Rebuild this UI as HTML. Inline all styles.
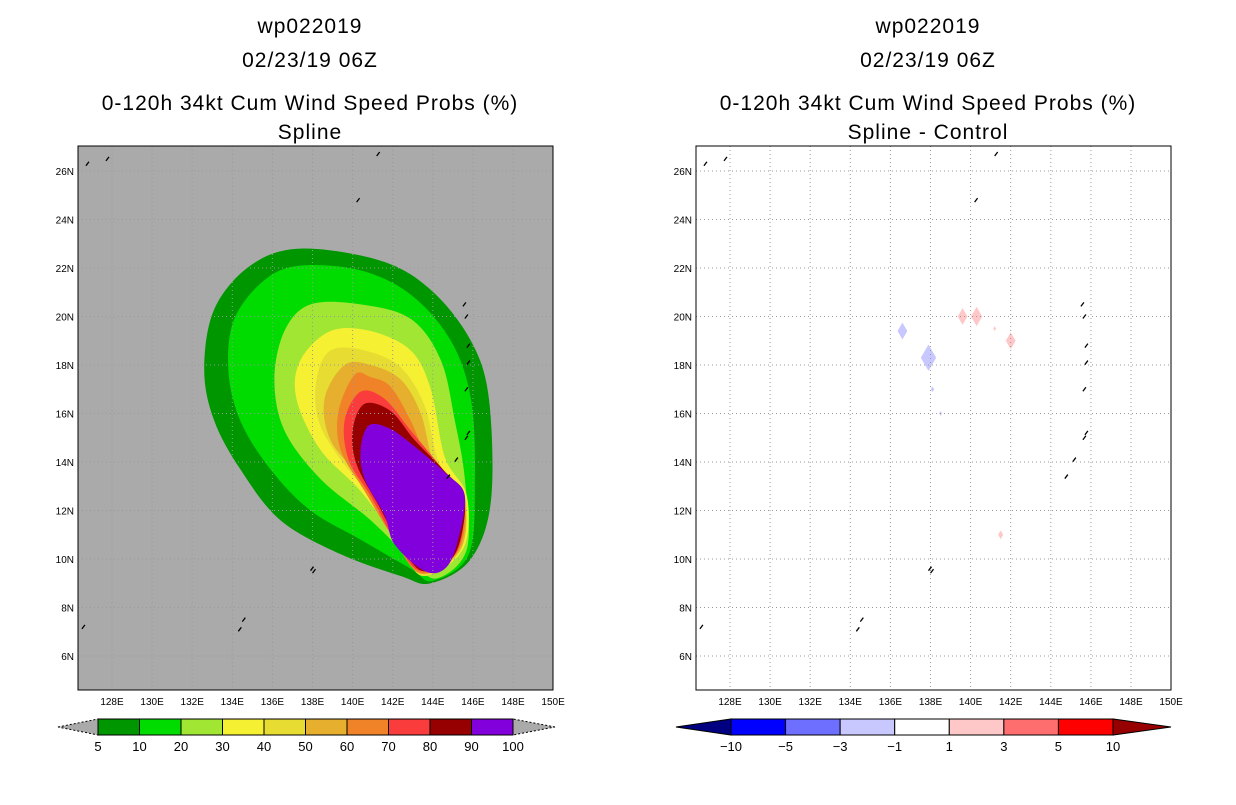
<!DOCTYPE html>
<html><head><meta charset="utf-8">
<style>
body{margin:0;background:#fff;width:1236px;height:800px;overflow:hidden}
svg text{font-family:"Liberation Sans",sans-serif;fill:#000}
</style></head>
<body>
<svg id="s" width="1236" height="800" xmlns="http://www.w3.org/2000/svg"></svg>
<script>
const levels=[5,10,20,30,40,50,60,70,80,90];
const levelColors=["#009600","#00dc00","#a0e632","#f5f032","#e6dc32","#e6af2d","#f08228","#fa3c3c","#960000","#8200dc"];
const contours=[
[[137.4,22.8],[134.9,22.1],[133.1,20.3],[132.6,17.8],[133.1,15.7],[134.4,13.7],[136.4,11.6],[139.4,10.2],[142.4,9.3],[143.9,9.0],[145.9,10.0],[146.9,12.4],[146.8,16.6],[145.9,19.0],[143.9,21.1],[141.4,22.3]],
[[137.4,22.1],[135.6,21.5],[134.1,19.9],[133.8,17.8],[134.4,15.7],[135.9,13.7],[137.9,12.0],[140.4,10.8],[142.9,9.6],[144.0,9.1],[145.8,10.2],[146.1,13.3],[145.9,16.6],[144.9,19.0],[142.9,20.9],[140.4,21.9]],
[[137.9,20.5],[136.6,19.4],[136.1,17.4],[136.6,15.3],[138.4,13.3],[140.9,11.6],[143.0,9.9],[144.2,9.2],[145.7,10.4],[145.6,13.3],[145.1,15.7],[144.4,18.2],[142.9,19.9],[140.4,20.5]],
[[138.9,19.4],[137.4,18.2],[137.2,16.6],[138.4,14.5],[140.4,12.8],[142.3,10.7],[143.5,9.3],[145.5,10.4],[145.7,12.6],[144.6,14.2],[143.9,17.0],[142.9,18.6],[140.9,19.4]],
[[138.9,18.6],[138.2,17.4],[138.3,15.7],[139.4,14.1],[141.1,12.4],[142.4,10.7],[143.5,9.3],[145.4,10.4],[145.6,12.6],[144.3,14.0],[143.6,16.3],[142.4,17.9],[140.6,18.6]],
[[139.6,18.0],[138.6,16.6],[138.9,14.9],[140.4,13.3],[141.9,11.2],[143.4,9.4],[145.4,10.4],[145.5,12.6],[144.1,13.9],[143.4,16.0],[142.4,17.4],[140.9,18.0]],
[[140.1,17.6],[139.3,16.1],[139.4,14.5],[140.6,12.8],[142.0,10.9],[143.4,9.4],[145.3,10.4],[145.5,12.6],[143.9,13.9],[142.9,15.7],[141.9,17.1],[140.9,17.5]],
[[140.4,16.9],[139.6,15.7],[139.8,14.1],[140.9,12.6],[142.1,10.8],[143.4,9.5],[145.2,10.3],[145.5,12.6],[144.4,13.8],[142.9,15.3],[141.6,16.6]],
[[140.6,16.4],[140.0,15.3],[140.2,13.9],[141.3,12.2],[142.3,10.7],[143.5,9.5],[145.1,10.2],[145.6,12.5],[144.6,13.6],[143.1,14.9],[141.9,16.1]],
[[140.8,15.5],[140.4,14.5],[140.6,13.3],[141.6,11.8],[142.1,10.6],[143.6,9.5],[144.6,9.6],[145.2,10.6],[145.6,12.6],[144.7,13.5],[143.0,14.7],[141.8,15.4]]
];
const diffLon=[136.6,137.9,138.1,138.5,139.6,140.3,141.2,142.0,141.5];
const diffLat=[19.4,18.3,17.0,16.0,20.0,20.0,19.5,19.0,11.0];
const diffVal=[-2,-2,-2,-2,2,2,2,2,2];
const diffSize=[0.35,0.55,0.12,0.1,0.35,0.4,0.1,0.35,0.18];
const lonTicks=[128,130,132,134,136,138,140,142,144,146,148,150];
const latTicks=[6,8,10,12,14,16,18,20,22,24,26];
const barLabels1=["5","10","20","30","40","50","60","70","80","90","100"];
const barLabels2=["-10","-5","-3","-1","1","3","5","10"];
const barColors2=["#0000ff","#6e6eff","#c8c8ff","#ffffff","#ffc8c8","#ff6e6e","#ff0000"];
const islands=[[126.8,26.3],[127.8,26.5],[141.3,26.7],[140.3,24.8],[145.6,20.5],[145.7,20.0],[145.8,18.8],[145.8,18.1],[145.7,17.0],[145.8,15.2],[145.7,15.0],[145.2,14.1],[144.8,13.4],[138.1,9.5],[134.6,7.5],[134.4,7.1],[126.6,7.2],[138.0,9.6]];

const s=document.getElementById('s');
const NS="http://www.w3.org/2000/svg";
function el(t,a,p){const e=document.createElementNS(NS,t);for(const k in a)e.setAttribute(k,a[k]);(p||s).appendChild(e);return e;}
function txt(x,y,str,size,anchor,p){const t=el('text',{x:x,y:y,'font-size':size,'text-anchor':anchor||'middle'},p);t.textContent=str;return t;}
function smooth(pts){
  const n=pts.length;let d=`M${pts[0][0]},${pts[0][1]}`;
  for(let i=0;i<n;i++){
    const p0=pts[(i-1+n)%n],p1=pts[i],p2=pts[(i+1)%n],p3=pts[(i+2)%n];
    const c1=[p1[0]+(p2[0]-p0[0])/6,p1[1]+(p2[1]-p0[1])/6];
    const c2=[p2[0]-(p3[0]-p1[0])/6,p2[1]-(p3[1]-p1[1])/6];
    d+=`C${c1[0]},${c1[1]} ${c2[0]},${c2[1]} ${p2[0]},${p2[1]}`;
  }
  return d+'Z';
}

function makeMap(ox,bg,name){
  const g=el('g',{});
  
  
  const X=lon=>ox+112+(lon-128)*20.05;
  const Y=lat=>171+(26-lat)*24.25;
  el('rect',{x:ox+78,y:146,width:475,height:544,fill:bg},g);
  return {g,X,Y,ox};
}
function finishMap(m){
  const {g,X,Y,ox}=m;
  lonTicks.forEach(l=>{const x=X(l);if(x<ox+553)el('line',{x1:x,y1:146,x2:x,y2:690,stroke:'#999','stroke-dasharray':'1,3'},g);
    const t=txt(x,705,l+'E',10,'middle',g);});
  latTicks.forEach(l=>{const y=Y(l);el('line',{x1:ox+78,y1:y,x2:ox+553,y2:y,stroke:'#999','stroke-dasharray':'1,3'},g);
    const t=txt(ox+74,y+4,l+'N',10,'end',g);});
  islands.forEach(p=>el('path',{d:`M${X(p[0])-2},${Y(p[1])+2}l3,-4`,stroke:'#000','stroke-width':1.3,fill:'none'},g));
  el('rect',{x:ox+78,y:146,width:475,height:544,fill:'none',stroke:'#000'},g);
}
function titles(cx,l4){
  [['wp022019',33],['02/23/19 06Z',67],['0-120h 34kt Cum Wind Speed Probs (%)',110],[l4,139]].forEach((a,i)=>{
    const t=txt(cx,a[1],a[0],21,'middle');t.setAttribute('letter-spacing','1');
    });
}
titles(310,'Spline');titles(928,'Spline - Control');

const m1=makeMap(0,'#aaaaaa','spline-map');
contours.forEach((c,i)=>{
  const p=el('path',{d:smooth(c.map(q=>[m1.X(q[0]),m1.Y(q[1])])),fill:levelColors[i]},m1.g);
  
  
});
finishMap(m1);

const m2=makeMap(618,'#ffffff','difference-map');
diffLon.forEach((lo,i)=>{
  const x=m2.X(lo),y=m2.Y(diffLat[i]),r=diffSize[i]*20;
  const col=diffVal[i]<0?'#c8c8ff':'#ffc8c8';
  const p=el('polygon',{points:`${x},${y-r*1.2} ${x+r*0.7},${y} ${x},${y+r*1.2} ${x-r*0.7},${y}`,fill:col},m2.g);
  
  
});
finishMap(m2);

const cb1=el('g',{});
const w1=(513-98)/10;
el('polygon',{points:'58,727 98,719 98,735',fill:'#aaaaaa',stroke:'#000','stroke-dasharray':'2,2'},cb1);
el('polygon',{points:'555,727 513,719 513,735',fill:'#aaaaaa',stroke:'#000','stroke-dasharray':'2,2'},cb1);
levelColors.forEach((c,i)=>el('rect',{x:98+i*w1,y:719,width:w1,height:16,fill:c,stroke:'#000'},cb1));
barLabels1.forEach((l,i)=>txt(98+i*w1,751,l,13,'middle',cb1));
const cb2=el('g',{});
const w2=(1113-731)/7;
el('polygon',{points:'676,727 731,719 731,735',fill:'#000080',stroke:'#000'},cb2);
el('polygon',{points:'1171,727 1113,719 1113,735',fill:'#960000',stroke:'#000'},cb2);
barColors2.forEach((c,i)=>el('rect',{x:731+i*w2,y:719,width:w2,height:16,fill:c,stroke:'#000'},cb2));
barLabels2.forEach((l,i)=>txt(731+i*w2,751,l.replace('-','−'),13,'middle',cb2));
</script>
</body></html>
